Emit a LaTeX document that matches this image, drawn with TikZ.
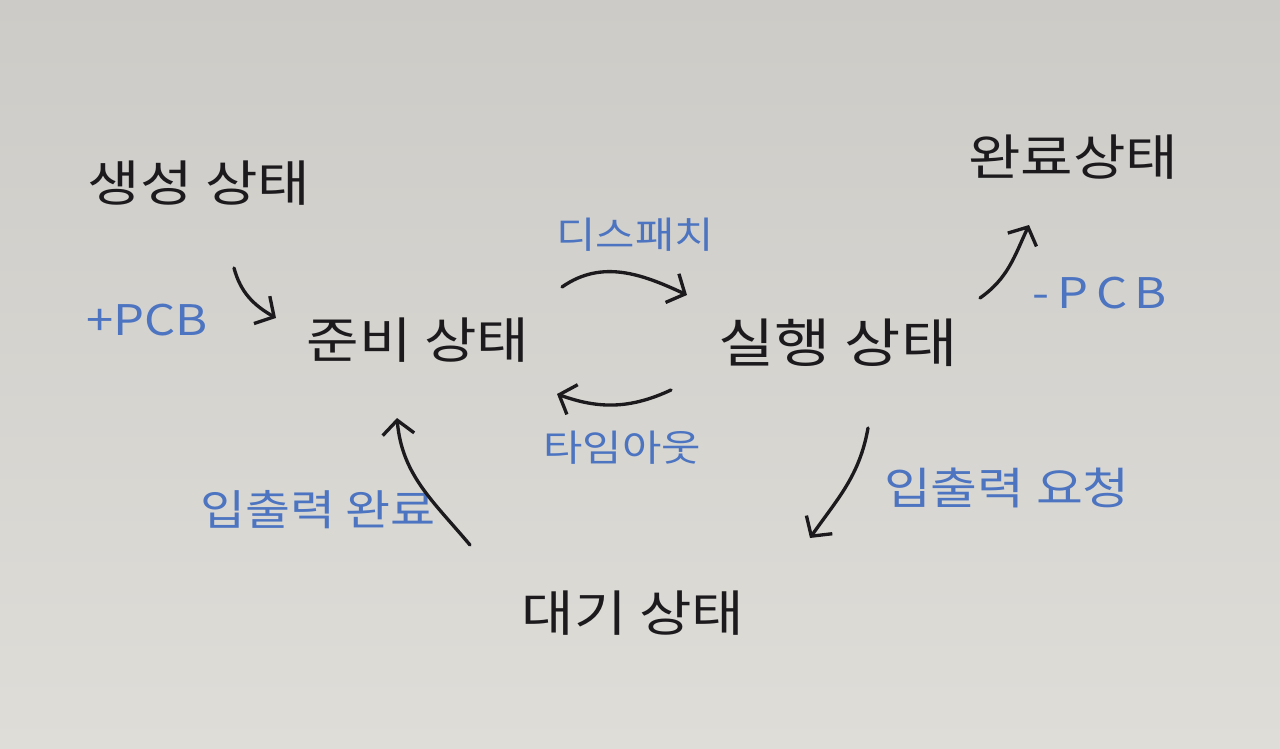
\documentclass[tikz,border=0pt]{standalone}
\usepackage{fontspec}
\usepackage{xcolor}
\usepackage{tikz}
\usetikzlibrary{arrows.meta}
\newfontfamily\krfont[FakeStretch=1.16]{Noto Sans CJK KR}
\newfontfamily\krspaced[FakeStretch=1.16, LetterSpace=18]{Noto Sans CJK KR}
\definecolor{paper}{RGB}{222,221,216}
\definecolor{paperdark}{RGB}{204,203,199}
\definecolor{ink}{RGB}{28,26,28}
\definecolor{penblue}{RGB}{76,116,192}

\begin{document}
\begin{tikzpicture}[
  x=0.02cm, y=-0.02cm,
  state/.style={font=\krfont\fontsize{28}{30}\selectfont, text=ink, inner sep=0pt},
  lbl/.style={font=\krfont\fontsize{24}{26}\selectfont, text=penblue, inner sep=0pt},
  arrow/.style={-{Straight Barb[length=8pt,width=18pt]}, line width=1.9pt, draw=ink,
                line cap=round, line join=round}]

  % paper
  \shade[top color=paperdark, bottom color=paper] (0,0) rectangle (1280,749);
  \useasboundingbox (0,0) rectangle (1280,749);

  % states
  \node[state] (new)   at (199,183)  {생성 상태};
  \node[state] (ready) at (418,340)  {준비 상태};
  \node[state, font=\krfont\fontsize{30}{32}\selectfont] (run) at (838,343) {실행 상태};
  \node[state] (done)  at (1073,157) {완료상태};
  \node[state] (wait)  at (633,613)  {대기 상태};

  % labels
  \node[lbl] (addpcb)   at (147,320)  {+PCB};
  \node[lbl, font=\krfont\fontsize{21}{23}\selectfont] (dispatch) at (635,235) {디스패치};
  \node[lbl, font=\krfont\fontsize{21}{23}\selectfont] (timeout)  at (622,448) {타임아웃};
  \node[lbl, font=\krspaced\fontsize{24}{26}\selectfont] (delpcb) at (1100,293) {-PCB};
  \node[lbl] (iodone)   at (318,510)  {입출력 완료};
  \node[lbl, font=\krfont\fontsize{25}{27}\selectfont] (ioreq) at (1007,488) {입출력 요청};

  % transitions
  \draw[arrow] ([shift={(35,85)}]new.center) to[out=-75, in=150] ([shift={(-142,-22)}]ready.center);
  \draw[arrow] ([shift={(144,-53)}]ready.center) to[out=35, in=155] ([shift={(-151,-48)}]run.center);
  \draw[arrow] ([shift={(-167,47)}]run.center) to[out=-155, in=-20] ([shift={(139,54)}]ready.center);
  \draw[arrow] ([shift={(142,-45)}]run.center) to[out=35, in=-115] ([shift={(-44,68)}]done.center);
  \draw[arrow] ([shift={(30,85)}]run.center) to[out=-100, in=55] ([shift={(177,-75)}]wait.center);
  \draw[arrow] ([shift={(-163,-68)}]wait.center) to[out=130, in=-85] ([shift={(-21,78)}]ready.center);
\end{tikzpicture}
\end{document}
